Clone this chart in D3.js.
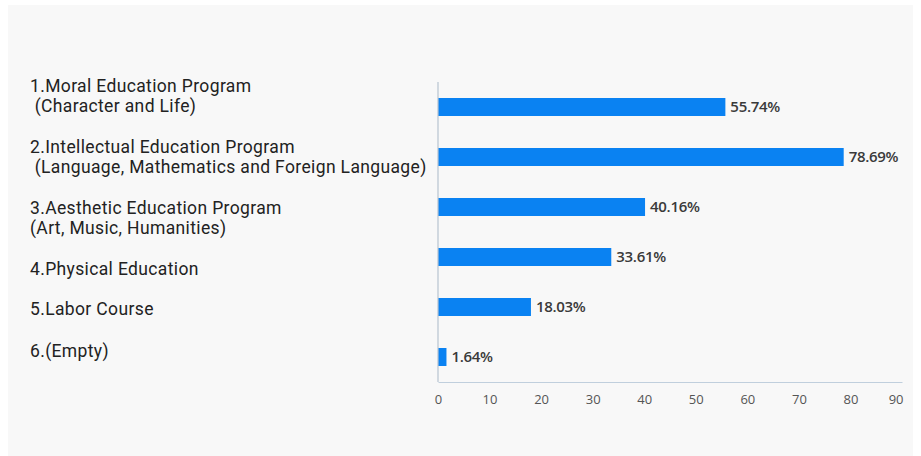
<!DOCTYPE html>
<html>
<head>
<meta charset="utf-8">
<script src="https://cdn.jsdelivr.net/npm/d3@7"></script>
<style>
  html, body { margin: 0; padding: 0; background: #ffffff; }
  svg { display: block; }
</style>
</head>
<body>
<svg id="chart" width="921" height="456"></svg>
<script>
// Course categories (each split into display lines) and their shares in percent
const categories = [
  ["1.Moral Education Program", " (Character and Life)"],
  ["2.Intellectual Education Program", " (Language, Mathematics and Foreign Language)"],
  ["3.Aesthetic Education Program", "(Art, Music, Humanities)"],
  ["4.Physical Education"],
  ["5.Labor Course"],
  ["6.(Empty)"]
];
const values = [55.74, 78.69, 40.16, 33.61, 18.03, 1.64];
const xTicks = [0, 10, 20, 30, 40, 50, 60, 70, 80, 90];

const svg = d3.select("#chart");
const W = 921, H = 456;

// light panel behind the chart
svg.append("rect")
  .attr("x", 8).attr("y", 5)
  .attr("width", 905).attr("height", H - 5)
  .attr("fill", "#f8f8f8");

const plot = { left: 438, right: 902, top: 82, bottom: 382 };

const x = d3.scaleLinear().domain([0, 90]).range([plot.left, plot.right]);
const y = d3.scaleBand()
  .domain(d3.range(categories.length))
  .range([plot.top, plot.bottom])
  .paddingInner(0.64)
  .paddingOuter(0.32);

// bars
svg.append("g").selectAll("rect")
  .data(values)
  .join("rect")
  .attr("x", x(0))
  .attr("y", (d, i) => y(i))
  .attr("width", d => x(d) - x(0))
  .attr("height", y.bandwidth())
  .attr("fill", "#0a82f2");

// value labels
svg.append("g").selectAll("text")
  .data(values)
  .join("text")
  .attr("x", d => x(d) + 5)
  .attr("y", (d, i) => y(i) + y.bandwidth() / 2)
  .attr("dy", "0.35em")
  .attr("font-family", "'Open Sans', 'Noto Sans', sans-serif")
  .attr("font-size", 15)
  .attr("font-weight", 600)
  .attr("fill", "#3a3a3a")
  .attr("letter-spacing", -0.3)
  .text(d => d.toFixed(2) + "%");

// x axis
const xAxis = svg.append("g")
  .attr("transform", `translate(0,${plot.bottom})`)
  .call(d3.axisBottom(x).tickValues(xTicks).tickSize(0).tickPadding(13));
xAxis.select(".domain").attr("stroke", "#c0cfdd").attr("stroke-width", 1.2);
xAxis.selectAll("text")
  .attr("font-family", "'Open Sans', 'Noto Sans', sans-serif")
  .attr("font-size", 13)
  .attr("fill", "#555")
  .attr("text-anchor", (d, i) => i === xTicks.length - 1 ? "end" : "middle")
  .attr("dx", (d, i) => i === xTicks.length - 1 ? 1 : 0);

// y axis line
svg.append("line")
  .attr("x1", plot.left).attr("x2", plot.left)
  .attr("y1", plot.top).attr("y2", plot.bottom)
  .attr("stroke", "#b8c4d0").attr("stroke-width", 1.2);

// category labels (one text per category, lines as tspans), nudged per row
const labelShift = [-11, 0, 11, 12, 2, -6];
const lineGap = 20.6;
svg.append("g")
  .attr("font-family", "Roboto, 'Noto Sans', sans-serif")
  .attr("font-size", 17.5)
  .attr("letter-spacing", 0.36)
  .attr("fill", "#222")
  .selectAll("text")
  .data(categories)
  .join("text")
  .attr("xml:space", "preserve")
  .style("white-space", "pre")
  .each(function (lines, i) {
    const cy = y(i) + y.bandwidth() / 2 + labelShift[i];
    const start = cy - (lines.length - 1) * lineGap / 2;
    d3.select(this).selectAll("tspan")
      .data(lines)
      .join("tspan")
      .attr("x", 30)
      .attr("y", (ln, j) => start + j * lineGap)
      .attr("dy", "0.35em")
      .text(ln => ln);
  });
</script>
</body>
</html>
